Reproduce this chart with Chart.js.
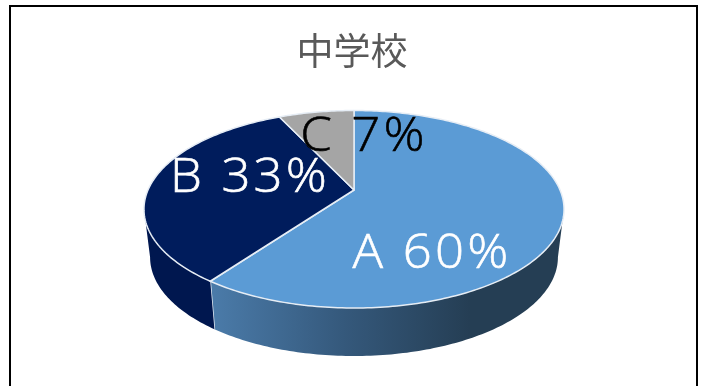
<!DOCTYPE html>
<html>
<head>
<meta charset="utf-8">
<style>
  html, body { margin: 0; padding: 0; background: #fff; overflow: hidden; }
  canvas { display: block; }
</style>
<script src="https://cdn.jsdelivr.net/npm/chart.js@4"></script>
</head>
<body>
<canvas id="chart" width="704" height="386"></canvas>
<script>
const titleText = '中学校';
const categories = ['A', 'B', 'C'];
const shares = [60, 33, 7];

const topColors = ['#5b9bd5', '#001c5c', '#a5a5a5'];
const labelColors = ['#ffffff', '#ffffff', '#000000'];
const labelCenters = [[432, 254], [250, 178], [364, 137]];

const LABEL_FONT = '300 48px "Open Sans"';
const LABEL_SPACING = '3px';
const LABEL_STRETCH = 1.06;
const RIM_COLOR = '#e6edf5';

// perspective projection of the unit disc, k is how much the near edge grows
const k = 0.195;
const topFace = { cx: 354, cy: 190, a: 206, b: 95 };
const bottomFace = { cx: 354, cy: 238, a: 200, b: 95 };
// angle where the disc outline is widest on screen, the wall starts there
const silhouette = Math.asin(k);

function project(face, theta) {
    const w = 1 - k * Math.sin(theta);
    return [face.cx + face.a * Math.cos(theta) / w, face.cy + face.b * Math.sin(theta) / w];
}

function tracePath(ctx, face, from, to) {
    const steps = Math.max(2, Math.ceil(Math.abs(to - from) * 60));
    for (let i = 0; i <= steps; i++) {
        const [x, y] = project(face, from + (to - from) * i / steps);
        ctx.lineTo(x, y);
    }
}

class Arc3dElement extends Chart.ArcElement {
    static id = 'arc3d';

    draw(ctx) {
        const { startAngle, endAngle } = this.getProps(['startAngle', 'endAngle']);
        ctx.save();
        ctx.beginPath();
        ctx.moveTo(topFace.cx, topFace.cy);
        tracePath(ctx, topFace, startAngle, endAngle);
        ctx.closePath();
        ctx.fillStyle = this.options.backgroundColor;
        ctx.fill();
        ctx.lineJoin = 'round';
        ctx.lineWidth = this.options.borderWidth;
        ctx.strokeStyle = this.options.borderColor;
        ctx.stroke();
        ctx.restore();
    }
}

class Pie3dController extends Chart.PieController {
    static id = 'pie3d';
    static defaults = { ...Chart.PieController.defaults, dataElementType: 'arc3d' };

    drawWall(ctx, arc, fill) {
        const { startAngle, endAngle } = arc.getProps(['startAngle', 'endAngle']);
        const from = Math.max(startAngle, silhouette);
        const to = Math.min(endAngle, Math.PI - silhouette);
        if (to <= from) return;
        ctx.beginPath();
        tracePath(ctx, topFace, from, to);
        tracePath(ctx, bottomFace, to, from);
        ctx.closePath();
        ctx.fillStyle = fill;
        ctx.fill();
        // bright edge where the wall of one slice meets the next
        if (to === endAngle) {
            const p = project(topFace, to);
            const q = project(bottomFace, to);
            ctx.beginPath();
            ctx.moveTo(p[0], p[1]);
            ctx.lineTo(q[0], q[1]);
            ctx.strokeStyle = RIM_COLOR;
            ctx.lineWidth = 1.5;
            ctx.stroke();
        }
    }

    draw() {
        const ctx = this.chart.ctx;
        const arcs = this._cachedMeta.data;

        const blueWall = ctx.createLinearGradient(215, 0, 470, 0);
        blueWall.addColorStop(0, '#4a7aa8');
        blueWall.addColorStop(0.5, '#35597c');
        blueWall.addColorStop(1, '#253e54');

        ctx.save();
        this.drawWall(ctx, arcs[0], blueWall);
        this.drawWall(ctx, arcs[1], '#00174f');
        ctx.restore();

        super.draw();
    }
}

Chart.register(Arc3dElement, Pie3dController);

const frameAndLabels = {
    id: 'frameAndLabels',
    beforeDraw(chart) {
        const ctx = chart.ctx;
        ctx.save();
        ctx.strokeStyle = '#000';
        ctx.lineWidth = 2;
        ctx.strokeRect(10, 6, 687, 500);
        ctx.restore();
    },
    afterDatasetsDraw(chart) {
        const ctx = chart.ctx;
        ctx.font = LABEL_FONT;
        ctx.letterSpacing = LABEL_SPACING;
        ctx.textAlign = 'center';
        ctx.textBaseline = 'middle';
        categories.forEach((name, i) => {
            ctx.save();
            ctx.translate(labelCenters[i][0], labelCenters[i][1]);
            ctx.scale(LABEL_STRETCH, 1);
            ctx.fillStyle = labelColors[i];
            ctx.strokeStyle = labelColors[i];
            ctx.lineWidth = 0.6;
            ctx.fillText(`${name} ${shares[i]}%`, 0, 0);
            ctx.strokeText(`${name} ${shares[i]}%`, 0, 0);
            ctx.restore();
        });
        ctx.letterSpacing = '0px';
    },
};

new Chart(document.getElementById('chart'), {
    type: 'pie3d',
    data: {
        labels: categories,
        datasets: [{
            data: shares,
            backgroundColor: topColors,
            borderColor: RIM_COLOR,
            borderWidth: 1.5,
        }],
    },
    options: {
        responsive: false,
        animation: false,
        plugins: {
            legend: { display: false },
            tooltip: { enabled: false },
            title: {
                display: true,
                text: titleText,
                color: '#595959',
                font: { family: '"Noto Sans CJK JP"', size: 37, weight: 'normal' },
                padding: { top: 29, bottom: 0 },
            },
        },
    },
    plugins: [frameAndLabels],
});
</script>
</body>
</html>
